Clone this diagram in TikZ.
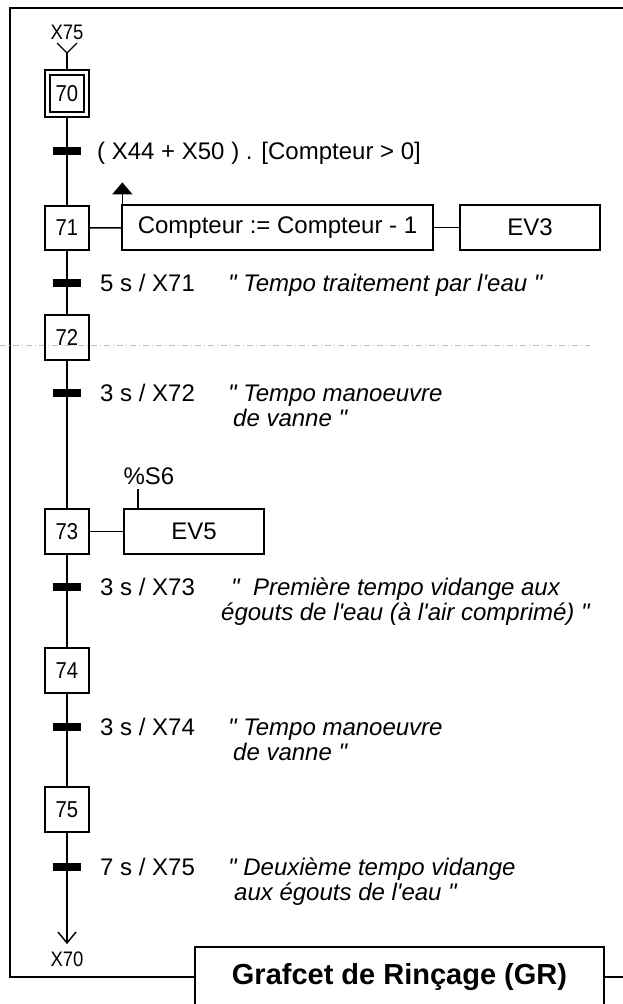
\documentclass[tikz,border=0pt]{standalone}
\usepackage{graphicx}
\usepackage{fontspec}
\setmainfont{Liberation Sans}[Ligatures=TeXOff]
\usetikzlibrary{arrows.meta,calc}
\newcommand\stepnum[1]{\scalebox{0.88}[1]{#1}}
\begin{document}
\begin{tikzpicture}[x=1pt,y=-1pt,
  every node/.style={inner sep=0pt},
  stepbox/.style={draw,line width=1.3pt,minimum width=44pt,minimum height=45pt,font=\fontsize{23}{27}\selectfont},
  actbox/.style={draw,line width=1.3pt,minimum height=45pt,font=\fontsize{24}{28}\selectfont},
  link/.style={line width=1.4pt},
  frameline/.style={line width=1.6pt},
  trbar/.style={fill=black,minimum width=28pt,minimum height=8pt},
  lbl/.style={anchor=base west,font=\fontsize{24}{28}\selectfont},
  ilbl/.style={anchor=base west,font=\fontsize{24}{28}\selectfont\itshape},
  small/.style={font=\fontsize{21}{25}\selectfont},
  scanline/.style={gray!50,line width=0.7pt,dash pattern=on 6pt off 3pt on 1pt off 3pt}
]
\useasboundingbox (0,0) rectangle (623,1004);

% frame and title
\node[draw,line width=1.6pt,minimum width=409pt,minimum height=60pt,font=\fontsize{29}{33}\selectfont\bfseries] (title) at (399.5,977) {Grafcet de Rinçage (GR)};
\coordinate (fbl) at (10,977);
\coordinate (ftl) at (10,8);
\coordinate (ftr) at (623,8);
\coordinate (fbr) at (623,977);
\draw[frameline] (title.west) -- (fbl) -- (ftl) -- (ftr);
\draw[frameline] (title.east) -- (fbr);

% scan artifact line
\coordinate (sl) at (0,345);
\coordinate (sr) at (590,345);
\draw[scanline] (sl) -- (sr);

% steps
\node[stepbox,minimum height=47pt] (s70) at (67,93.5) {};
\node[stepbox,minimum width=34pt,minimum height=37pt] (s70i) at (67,93.5) {\stepnum{70}};
\node[stepbox,minimum height=44pt] (s71) at (67,228) {\stepnum{71}};
\node[stepbox] (s72) at (67,337.5) {\stepnum{72}};
\node[stepbox] (s73) at (67,531.5) {\stepnum{73}};
\node[stepbox] (s74) at (67,670.5) {\stepnum{74}};
\node[stepbox] (s75) at (67,809.5) {\stepnum{75}};

% transitions
\node[trbar] (t1) at (67,151) {};
\node[trbar] (t2) at (67,283) {};
\node[trbar] (t3) at (67,393) {};
\node[trbar] (t4) at (67,587) {};
\node[trbar] (t5) at (67,727) {};
\node[trbar] (t6) at (67,867) {};

% input / output
\node[small] (x75) at (67,32) {\stepnum{X75}};
\coordinate (in) at (67,53);
\draw[link] ($(in)+(-10,-10)$) -- (in) -- ($(in)+(10,-10)$);
\draw[link] (in) -- (s70);
\coordinate (out) at (67,943);
\draw[link] ($(out)+(-9,-11)$) -- (out) -- ($(out)+(9,-11)$);
\node[small] (x70) at (67,959) {\stepnum{X70}};

% main line
\draw[link] (s70) -- (t1) -- (s71) -- (t2) -- (s72) -- (t3) -- (s73) -- (t4) -- (s74) -- (t5) -- (s75) -- (t6) -- (out);

% actions
\node[actbox,minimum width=311pt] (a71) at (277.5,227.5) {Compteur := Compteur - 1};
\node[actbox,minimum width=140pt] (ev3) at (530,227.5) {EV3};
\draw[link] (s71) -- (a71);
\draw[link] (a71) -- (ev3);
\coordinate (upbase) at ($(a71.north west)+(1,0)$);
\coordinate (uptip) at ($(upbase)+(0,-22)$);
\draw[link,-{Triangle[length=12pt,width=20pt]}] (upbase) -- (uptip);

\node[actbox,minimum width=140pt] (ev5) at (194,531.5) {EV5};
\draw[link] (s73) -- (ev5);
\node[font=\fontsize{24}{28}\selectfont] (s6) at (149,476) {\%S6};
\coordinate (s6t) at (138,489);
\draw[link] (s6t) -- (s6t |- ev5.north);

% transition receptivities
\node[lbl] (c1) at (97,159) {( X44 + X50 ) . [Compteur > 0]};
\node[lbl] (c2) at (100,291) {5 s / X71};
\node[ilbl] (d2) at (228,291) {" Tempo traitement par l'eau "};
\node[lbl] (c3) at (100,401) {3 s / X72};
\node[ilbl] (d3a) at (228,401) {" Tempo manoeuvre};
\node[ilbl] (d3b) at (233,426) {de vanne "};
\node[lbl] (c4) at (100,595) {3 s / X73};
\node[ilbl] (d4a) at (231,595) {"\ \ Première tempo vidange aux};
\node[ilbl] (d4b) at (221,620) {égouts de l'eau (à l'air comprimé) "};
\node[lbl] (c5) at (100,735) {3 s / X74};
\node[ilbl] (d5a) at (228,735) {" Tempo manoeuvre};
\node[ilbl] (d5b) at (233,760) {de vanne "};
\node[lbl] (c6) at (100,875) {7 s / X75};
\node[ilbl] (d6a) at (228,875) {" Deuxième tempo vidange};
\node[ilbl] (d6b) at (234,900) {aux égouts de l'eau "};
\end{tikzpicture}
\end{document}
